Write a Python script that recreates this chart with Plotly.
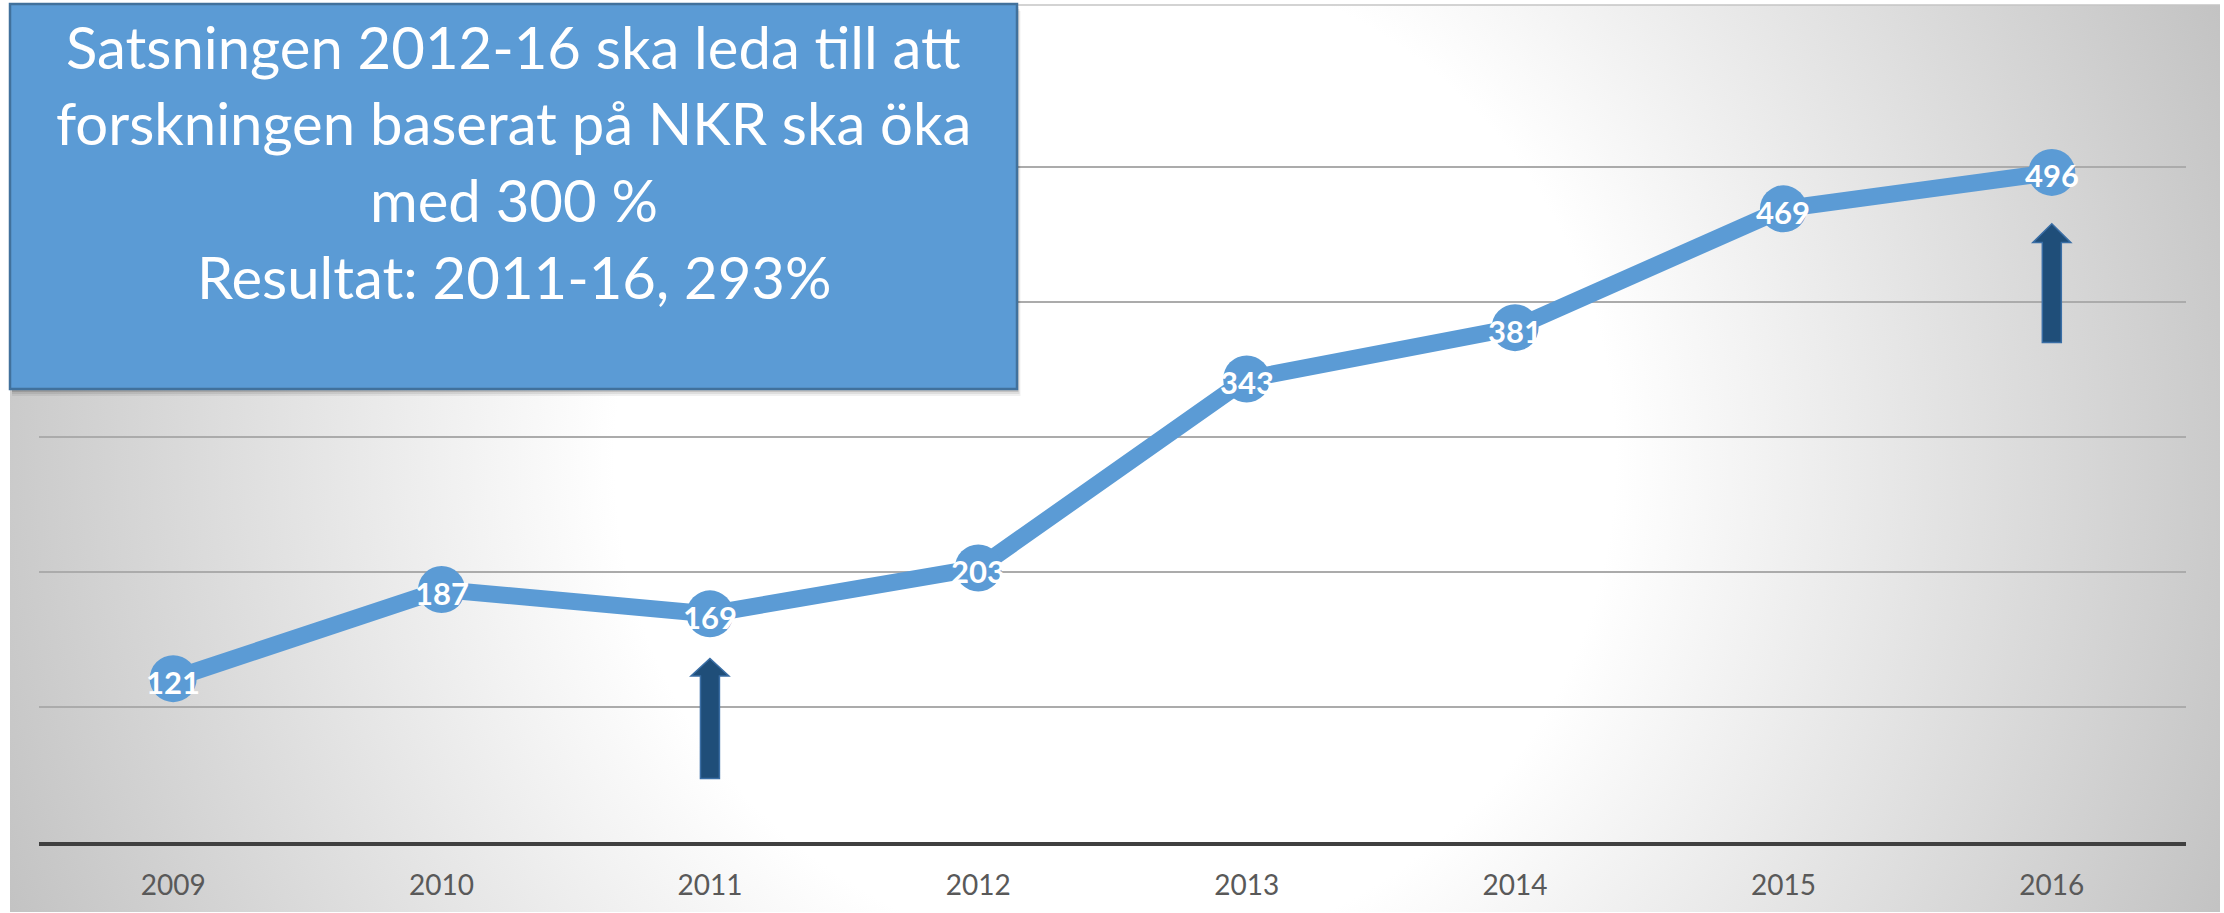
import plotly.graph_objects as go

# ---------------- data ----------------
years = ["2009", "2010", "2011", "2012", "2013", "2014", "2015", "2016"]
values = [121, 187, 169, 203, 343, 381, 469, 496]

y_ticks = [0, 100, 200, 300, 400, 500, 600]

box_lines = [
    "Satsningen 2012-16 ska leda till att",
    "forskningen baserat på NKR ska öka",
    "med 300 %",
    "Resultat: 2011-16, 293%",
]

arrow_years = ["2011", "2016"]
arrow_tip = [136, 458]
arrow_head = [123, 444]
arrow_base = [47, 370]

# ---------------- style / layout constants ----------------
W, H = 2224, 913
BLUE = "#5b9bd5"
FONT = "Lato"


def px_x(p):
    return p / W


def px_y(p):
    return 1 - p / H


# background area (pixels)
BG_L, BG_R, BG_T, BG_B = 10, 2220, 5, 912
CX, CY, R = 1115, 458, 1250

# data plot area (pixels)
PA_L, PA_R, PA_T, PA_B = 39, 2186, 32, 842

fig = go.Figure()

# radial gradient background on its own subplot (drawn first, below data subplot)
fig.add_trace(go.Scatter(
    x=[CX - R, CX + R, CX + R, CX - R, CX - R],
    y=[CY - R, CY - R, CY + R, CY + R, CY - R],
    mode="lines", fill="toself",
    line=dict(width=0, color="rgba(0,0,0,0)"),
    fillgradient=dict(type="radial",
                      colorscale=[[0, "#ffffff"], [0.4, "#ffffff"], [1, "#bebebe"]]),
    hoverinfo="skip", showlegend=False,
    xaxis="x", yaxis="y",
))

# data line
fig.add_trace(go.Scatter(
    x=years, y=values,
    mode="lines+markers",
    line=dict(color=BLUE, width=17),
    marker=dict(size=47, color=BLUE, line=dict(width=0)),
    cliponaxis=False,
    hoverinfo="x+y", showlegend=False,
    xaxis="x2", yaxis="y2",
))

shapes = []
# top border of chart area
shapes.append(dict(type="line", xref="paper", yref="paper",
                   x0=px_x(BG_L), x1=px_x(BG_R), y0=px_y(BG_T), y1=px_y(BG_T),
                   line=dict(color="#c4c4c4", width=1.5)))

# arrows (x in pixels around the category, y in data units)
HEAD_HW, SHAFT_HW = 19, 9.5
for yr, tip, head, base in zip(arrow_years, arrow_tip, arrow_head, arrow_base):
    path = (f"M {-SHAFT_HW},{base} L {-SHAFT_HW},{head} L {-HEAD_HW},{head} "
            f"L 0,{tip} L {HEAD_HW},{head} L {SHAFT_HW},{head} L {SHAFT_HW},{base} Z")
    shapes.append(dict(type="path", xref="x2", yref="y2", xsizemode="pixel",
                       xanchor=years.index(yr), path=path, fillcolor="#1f4e79",
                       line=dict(color="#3a6ea5", width=1.5), layer="above"))

# text box shadow + box
BOX_L, BOX_R, BOX_T, BOX_B = 10, 1017, 4, 389
for off, a in [(7, 0.06), (5, 0.08), (3, 0.12)]:
    shapes.append(dict(type="rect", xref="paper", yref="paper",
                       x0=px_x(BOX_L + 2), x1=px_x(BOX_R + off * 0.5),
                       y0=px_y(BOX_B + off), y1=px_y(BOX_T + off),
                       fillcolor=f"rgba(0,0,0,{a})", line=dict(width=0)))
shapes.append(dict(type="rect", xref="paper", yref="paper",
                   x0=px_x(BOX_L), x1=px_x(BOX_R), y0=px_y(BOX_B), y1=px_y(BOX_T),
                   fillcolor=BLUE, line=dict(color="#41719c", width=2.5)))

annotations = []
# data labels (category axis -> serial index)
for i, v in enumerate(values):
    annotations.append(dict(xref="x2", yref="y2", x=i, y=v, text=str(v),
                            showarrow=False, xanchor="center", yanchor="middle",
                            yshift=-3,
                            font=dict(family=FONT, size=31, color="white",
                                      weight="bold")))

line_centers = [46, 123, 199, 276]
for txt, yc in zip(box_lines, line_centers):
    annotations.append(dict(xref="paper", yref="paper",
                            x=px_x((BOX_L + BOX_R) / 2), y=px_y(yc),
                            xanchor="center", yanchor="middle",
                            text=txt, showarrow=False,
                            font=dict(family=FONT, size=58, color="white")))

fig.update_layout(
    width=W, height=H,
    margin=dict(l=0, r=0, t=0, b=0),
    paper_bgcolor="white",
    plot_bgcolor="rgba(0,0,0,0)",
    showlegend=False,
    xaxis=dict(domain=[px_x(BG_L), px_x(BG_R)], range=[BG_L, BG_R],
               visible=False, fixedrange=True),
    yaxis=dict(domain=[px_y(BG_B), px_y(BG_T)], range=[BG_B, BG_T],
               visible=False, fixedrange=True),
    xaxis2=dict(domain=[px_x(PA_L), px_x(PA_R)], anchor="y2",
                type="category", categoryorder="array", categoryarray=years,
                range=[-0.5, len(years) - 0.5],
                showgrid=False, zeroline=False,
                showline=True, linecolor="#404040", linewidth=3.5,
                ticks="", ticklabelstandoff=16,
                tickfont=dict(family=FONT, size=28, color="#595959")),
    yaxis2=dict(domain=[px_y(PA_B), px_y(PA_T)], anchor="x2",
                range=[y_ticks[0], y_ticks[-1]],
                tickvals=y_ticks, showticklabels=False,
                showgrid=True, gridcolor="#ababab", gridwidth=1.5,
                zeroline=False, showline=False),
    shapes=shapes,
    annotations=annotations,
)

fig.write_html("out.html")
